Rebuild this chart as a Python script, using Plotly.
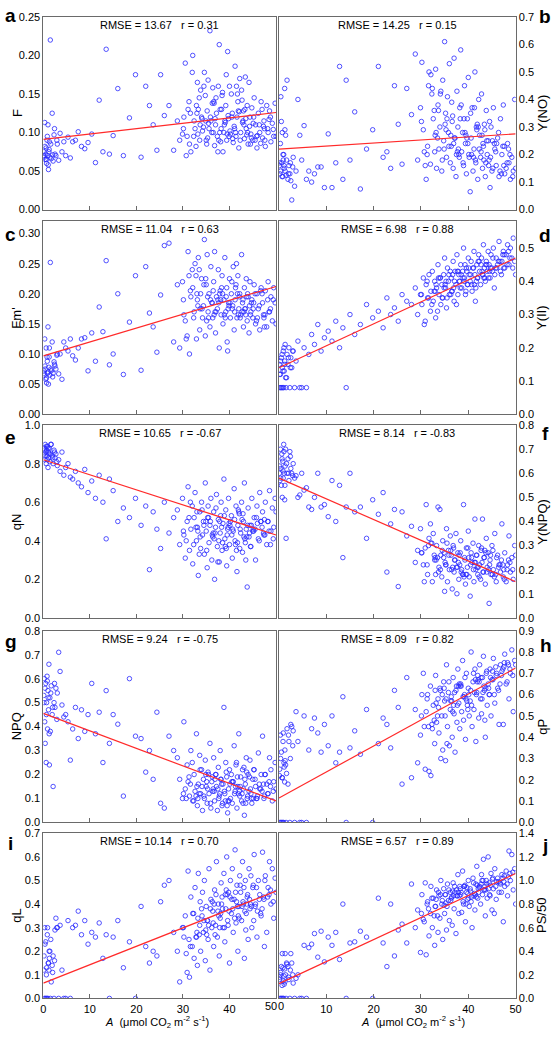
import plotly.graph_objects as go

# ---------------- data ----------------
# shared photosynthesis rate A (µmol CO2 m-2 s-1)
A = [0.1, 0.2, 0.3, 0.4, 0.5, 0.6, 0.7, 0.8, 0.9, 1.0,
     1.1, 1.2, 1.3, 1.4, 1.5, 1.7, 1.9, 2.1, 2.3, 2.5,
     2.7, 3.0, 3.3, 3.6, 4.0,
     4.4, 4.8, 5.3, 5.8, 6.3, 6.9, 7.5, 8.2, 8.9, 9.6,
     10.4, 11.2, 12.0, 12.8, 13.5, 14.2, 15.0, 16.0, 17.2, 18.5,
     19.8, 21.0, 22.0, 22.8, 23.6, 24.4, 25.2, 26.0, 27.0, 28.0,
     28.8, 29.3, 29.9, 30.2, 30.5, 30.9, 31.1, 31.4, 31.7, 32.0,
     32.1, 32.4, 32.6, 32.9, 33.1, 33.3, 33.6, 33.8, 34.0, 34.2,
     34.4, 34.6, 34.8, 35.0, 35.2, 35.4, 35.6, 35.8, 36.0, 36.2,
     36.4, 36.6, 36.8, 37.0, 37.2, 37.4, 37.6, 37.8, 38.0, 38.2,
     38.4, 38.6, 38.8, 39.0, 39.2, 39.4, 39.6, 39.8, 40.0, 40.2,
     40.4, 40.6, 40.8, 41.0, 41.2, 41.4, 41.6, 41.8, 42.0, 42.2,
     42.4, 42.6, 42.8, 43.0, 43.2, 43.4, 43.6, 43.8, 44.0, 44.2,
     44.4, 44.6, 44.8, 45.0, 45.3, 45.6, 45.9, 46.2, 46.5, 46.8,
     47.1, 47.4, 47.7, 48.0, 48.3, 48.6, 48.9, 49.2, 49.5, 49.8,
     30.7, 33.5, 35.5, 37.5, 39.5, 41.5, 43.5, 45.5, 47.5, 50.0,
     30.1, 31.3, 32.3, 33.0, 33.7, 34.5, 35.1, 35.9, 36.5, 37.1,
     37.7, 38.3, 38.9, 39.3, 39.9, 40.5, 41.1, 41.7, 42.3, 42.9,
     43.3, 43.9, 44.5, 45.2, 45.8, 46.4, 47.0, 47.6, 48.2, 48.8,
     31.6, 33.2, 34.9, 36.7, 38.1, 39.7, 41.3, 42.7, 44.3, 46.0,
     35.3, 36.9, 38.5, 40.1, 41.9, 43.7, 45.1, 46.7, 48.5, 49.4,
     32.8, 34.1, 36.3, 37.9, 39.1, 40.7, 42.1, 43.1, 44.7, 47.3,
     0.15, 0.35, 0.65, 0.85, 1.05, 1.25, 1.6, 2.0, 2.4, 2.9]

F = [0.075, 0.068, 0.113, 0.065, 0.072, 0.08, 0.06, 0.09, 0.07, 0.11,
     0.052, 0.075, 0.088, 0.068, 0.22, 0.066, 0.125, 0.063, 0.097, 0.072,
     0.07, 0.085, 0.064, 0.099, 0.075,
     0.088, 0.07, 0.094, 0.067, 0.088, 0.09, 0.101, 0.082, 0.079, 0.087,
     0.098, 0.061, 0.142, 0.075, 0.208, 0.072, 0.096, 0.157, 0.07, 0.119,
     0.175, 0.068, 0.16, 0.135, 0.11, 0.077, 0.175, 0.122, 0.135, 0.077,
     0.115, 0.09, 0.098, 0.12, 0.19, 0.095, 0.13, 0.085, 0.075, 0.178,
     0.2, 0.115, 0.105, 0.135, 0.165, 0.13, 0.09, 0.155, 0.12, 0.102,
     0.107, 0.178, 0.148, 0.09, 0.128, 0.168, 0.105, 0.232, 0.115, 0.1,
     0.158, 0.14, 0.083, 0.11, 0.125, 0.095, 0.16, 0.214, 0.13, 0.105,
     0.148, 0.075, 0.1, 0.115, 0.135, 0.09, 0.205, 0.118, 0.16, 0.098,
     0.15, 0.125, 0.087, 0.108, 0.186, 0.095, 0.12, 0.14, 0.08, 0.17,
     0.1, 0.155, 0.113, 0.128, 0.092, 0.172, 0.105, 0.135, 0.085, 0.165,
     0.12, 0.098, 0.132, 0.09, 0.145, 0.11, 0.08, 0.125, 0.1, 0.14,
     0.093, 0.115, 0.082, 0.135, 0.1, 0.128, 0.088, 0.112, 0.095, 0.138,
     0.07, 0.145, 0.112, 0.075, 0.098, 0.16, 0.118, 0.09, 0.105, 0.095,
     0.105, 0.14, 0.095, 0.125, 0.11, 0.16, 0.085, 0.12, 0.1, 0.145,
     0.09, 0.13, 0.11, 0.175, 0.095, 0.12, 0.105, 0.15, 0.09, 0.115,
     0.13, 0.1, 0.085, 0.12, 0.095, 0.11, 0.13, 0.09, 0.105, 0.12,
     0.125, 0.098, 0.115, 0.138, 0.088, 0.122, 0.1, 0.142, 0.108, 0.096,
     0.093, 0.118, 0.152, 0.102, 0.128, 0.097, 0.112, 0.086, 0.117, 0.104,
     0.082, 0.118, 0.138, 0.1, 0.113, 0.092, 0.127, 0.11, 0.093, 0.108,
     0.07, 0.082, 0.065, 0.095, 0.058, 0.078, 0.085, 0.071, 0.105, 0.09]

Y_NO = [0.16, 0.13, 0.24, 0.41, 0.32, 0.17, 0.28, 0.12, 0.18, 0.2,
        0.15, 0.44, 0.14, 0.27, 0.125, 0.47, 0.11, 0.16, 0.13, 0.105,
        0.035, 0.19, 0.085, 0.14, 0.4,
        0.27, 0.18, 0.305, 0.11, 0.14, 0.1, 0.13, 0.155, 0.155, 0.08,
        0.275, 0.08, 0.17, 0.52, 0.11, 0.47, 0.18, 0.355, 0.075, 0.22,
        0.29, 0.52, 0.19, 0.21, 0.15, 0.45, 0.31, 0.165, 0.44, 0.345,
        0.565, 0.18, 0.37, 0.535, 0.29, 0.16, 0.11, 0.23, 0.5, 0.165,
        0.49, 0.44, 0.33, 0.21, 0.51, 0.15, 0.38, 0.22, 0.3, 0.43,
        0.14, 0.47, 0.25, 0.61, 0.35, 0.19, 0.41, 0.28, 0.53, 0.17,
        0.23, 0.32, 0.15, 0.55, 0.26, 0.12, 0.43, 0.3, 0.2, 0.37,
        0.58, 0.21, 0.28, 0.16, 0.45, 0.24, 0.13, 0.33, 0.48, 0.19,
        0.065, 0.26, 0.37, 0.14, 0.22, 0.5, 0.17, 0.29, 0.11, 0.4,
        0.27, 0.19, 0.42, 0.15, 0.23, 0.31, 0.12, 0.36, 0.2, 0.25,
        0.18, 0.08, 0.3, 0.14, 0.37, 0.22, 0.16, 0.26, 0.12, 0.33,
        0.2, 0.38, 0.13, 0.15, 0.24, 0.17, 0.11, 0.19, 0.14, 0.4,
        0.21, 0.26, 0.33, 0.2, 0.27, 0.18, 0.29, 0.24, 0.16, 0.15,
        0.32, 0.2, 0.42, 0.27, 0.36, 0.18, 0.31, 0.23, 0.39, 0.26,
        0.21, 0.33, 0.17, 0.28, 0.24, 0.35, 0.19, 0.3, 0.22, 0.27,
        0.18, 0.25, 0.32, 0.15, 0.21, 0.28, 0.13, 0.23, 0.17, 0.2,
        0.45, 0.28, 0.22, 0.34, 0.19, 0.26, 0.37, 0.21, 0.16, 0.24,
        0.29, 0.24, 0.38, 0.2, 0.31, 0.17, 0.25, 0.14, 0.22, 0.12,
        0.36, 0.42, 0.27, 0.22, 0.33, 0.2, 0.3, 0.24, 0.19, 0.23,
        0.17, 0.14, 0.12, 0.2, 0.16, 0.29, 0.18, 0.13, 0.17, 0.155]

FM = [0.072, 0.065, 0.125, 0.075, 0.058, 0.11, 0.052, 0.095, 0.068, 0.145,
      0.05, 0.078, 0.11, 0.065, 0.252, 0.072, 0.12, 0.068, 0.087, 0.08,
      0.075, 0.1, 0.067, 0.1, 0.058,
      0.12, 0.11, 0.105, 0.125, 0.097, 0.09, 0.11, 0.125, 0.127, 0.072,
      0.135, 0.088, 0.178, 0.137, 0.255, 0.082, 0.1, 0.2, 0.066, 0.153,
      0.23, 0.073, 0.245, 0.168, 0.145, 0.103, 0.198, 0.28, 0.284, 0.12,
      0.215, 0.11, 0.22, 0.165, 0.155, 0.13, 0.27, 0.1, 0.195, 0.24,
      0.21, 0.17, 0.25, 0.125, 0.19, 0.26, 0.14, 0.2, 0.225, 0.16,
      0.18, 0.29, 0.13, 0.215, 0.265, 0.17, 0.2, 0.145, 0.245, 0.185,
      0.16, 0.22, 0.27, 0.135, 0.195, 0.175, 0.24, 0.11, 0.205, 0.165,
      0.23, 0.15, 0.19, 0.26, 0.17, 0.21, 0.105, 0.185, 0.225, 0.16,
      0.2, 0.175, 0.245, 0.14, 0.19, 0.215, 0.16, 0.23, 0.175, 0.2,
      0.165, 0.265, 0.185, 0.145, 0.21, 0.175, 0.225, 0.155, 0.195, 0.135,
      0.22, 0.17, 0.19, 0.16, 0.215, 0.15, 0.2, 0.175, 0.14, 0.21,
      0.185, 0.16, 0.205, 0.145, 0.22, 0.17, 0.195, 0.155, 0.21, 0.185,
      0.125, 0.24, 0.16, 0.19, 0.12, 0.25, 0.165, 0.2, 0.145, 0.15,
      0.19, 0.23, 0.16, 0.2, 0.175, 0.215, 0.155, 0.19, 0.205, 0.17,
      0.185, 0.21, 0.165, 0.195, 0.18, 0.22, 0.17, 0.2, 0.16, 0.19,
      0.175, 0.2, 0.165, 0.185, 0.155, 0.18, 0.2, 0.165, 0.19, 0.175,
      0.205, 0.18, 0.225, 0.165, 0.19, 0.175, 0.21, 0.17, 0.18, 0.16,
      0.195, 0.17, 0.2, 0.185, 0.165, 0.195, 0.175, 0.205, 0.17, 0.19,
      0.23, 0.175, 0.185, 0.2, 0.16, 0.18, 0.195, 0.17, 0.185, 0.165,
      0.068, 0.08, 0.06, 0.088, 0.07, 0.095, 0.075, 0.062, 0.083, 0.098]

Y_II = [0.15, 0.08, 0.12, 0.08, 0.17, 0.08, 0.14, 0.08, 0.19, 0.08,
        0.13, 0.16, 0.21, 0.11, 0.08, 0.18, 0.15, 0.2, 0.08, 0.17,
        0.14, 0.19, 0.08, 0.16, 0.22,
        0.08, 0.08, 0.2, 0.08, 0.18, 0.24, 0.21, 0.27, 0.19, 0.23,
        0.25, 0.22, 0.28, 0.2, 0.26, 0.08, 0.3, 0.24, 0.27, 0.33,
        0.29, 0.31, 0.26, 0.35, 0.3, 0.32, 0.28, 0.36, 0.34, 0.33,
        0.38, 0.3, 0.36, 0.33, 0.41, 0.28, 0.39, 0.35, 0.42, 0.31,
        0.37, 0.43, 0.34, 0.4, 0.29, 0.38, 0.45, 0.36, 0.41, 0.33,
        0.39, 0.35, 0.42, 0.47, 0.38, 0.32, 0.44, 0.4, 0.36, 0.43,
        0.41, 0.37, 0.46, 0.34, 0.43, 0.39, 0.48, 0.36, 0.42, 0.4,
        0.45, 0.38, 0.43, 0.5, 0.41, 0.36, 0.44, 0.39, 0.47, 0.42,
        0.4, 0.46, 0.37, 0.44, 0.49, 0.42, 0.38, 0.45, 0.41, 0.48,
        0.43, 0.39, 0.47, 0.42, 0.51, 0.44, 0.4, 0.46, 0.43, 0.49,
        0.45, 0.41, 0.48, 0.44, 0.5, 0.42, 0.47, 0.45, 0.52, 0.43,
        0.46, 0.49, 0.44, 0.48, 0.51, 0.45, 0.5, 0.47, 0.53, 0.46,
        0.27, 0.31, 0.35, 0.33, 0.37, 0.34, 0.41, 0.38, 0.44, 0.42,
        0.36, 0.4, 0.33, 0.37, 0.41, 0.35, 0.39, 0.42, 0.37, 0.4,
        0.43, 0.38, 0.41, 0.45, 0.39, 0.42, 0.44, 0.4, 0.46, 0.43,
        0.41, 0.45, 0.43, 0.47, 0.44, 0.46, 0.42, 0.48, 0.45, 0.47,
        0.35, 0.39, 0.38, 0.42, 0.4, 0.43, 0.39, 0.45, 0.41, 0.44,
        0.4, 0.38, 0.42, 0.44, 0.41, 0.45, 0.43, 0.46, 0.49, 0.44,
        0.37, 0.41, 0.36, 0.43, 0.4, 0.39, 0.46, 0.42, 0.44, 0.48,
        0.12, 0.16, 0.18, 0.13, 0.2, 0.15, 0.11, 0.17, 0.14, 0.19]

QN = [0.85, 0.88, 0.82, 0.9, 0.86, 0.8, 0.87, 0.84, 0.89, 0.78,
      0.86, 0.83, 0.88, 0.81, 0.85, 0.9, 0.84, 0.8, 0.87, 0.83,
      0.85, 0.79, 0.82, 0.76, 0.86,
      0.74, 0.78, 0.8, 0.73, 0.72, 0.76, 0.7, 0.68, 0.77, 0.65,
      0.71, 0.62, 0.74, 0.6, 0.41, 0.72, 0.66, 0.5, 0.57, 0.52,
      0.62, 0.48, 0.58, 0.25, 0.55, 0.46, 0.36, 0.6, 0.44, 0.52,
      0.56, 0.38, 0.62, 0.43, 0.31, 0.5, 0.68, 0.35, 0.46, 0.58,
      0.28, 0.52, 0.65, 0.4, 0.47, 0.22, 0.55, 0.36, 0.6, 0.43,
      0.5, 0.33, 0.7, 0.45, 0.26, 0.58, 0.39, 0.48, 0.62, 0.3,
      0.42, 0.55, 0.2, 0.47, 0.64, 0.37, 0.51, 0.29, 0.44, 0.6,
      0.35, 0.49, 0.72, 0.41, 0.56, 0.27, 0.46, 0.62, 0.38, 0.5,
      0.53, 0.31, 0.45, 0.67, 0.4, 0.58, 0.24, 0.48, 0.55, 0.36,
      0.44, 0.6, 0.34, 0.5, 0.7, 0.39, 0.46, 0.16, 0.57, 0.42,
      0.48, 0.37, 0.62, 0.45, 0.52, 0.3, 0.58, 0.41, 0.65, 0.5,
      0.55, 0.43, 0.6, 0.38, 0.5, 0.66, 0.45, 0.57, 0.47, 0.62,
      0.4, 0.33, 0.52, 0.29, 0.43, 0.35, 0.3, 0.46, 0.51, 0.55,
      0.45, 0.52, 0.38, 0.55, 0.42, 0.48, 0.35, 0.5, 0.44, 0.57,
      0.4, 0.47, 0.53, 0.36, 0.49, 0.43, 0.51, 0.39, 0.46, 0.54,
      0.41, 0.48, 0.37, 0.45, 0.52, 0.4, 0.47, 0.43, 0.5, 0.38,
      0.6, 0.45, 0.5, 0.41, 0.53, 0.47, 0.38, 0.51, 0.44, 0.49,
      0.52, 0.44, 0.39, 0.48, 0.56, 0.42, 0.46, 0.5, 0.45, 0.41,
      0.47, 0.56, 0.43, 0.5, 0.37, 0.46, 0.54, 0.42, 0.48, 0.44,
      0.87, 0.84, 0.89, 0.82, 0.88, 0.85, 0.9, 0.83, 0.86, 0.81]

Y_NPQ = [0.6, 0.57, 0.7, 0.62, 0.55, 0.68, 0.5, 0.65, 0.58, 0.72,
         0.6, 0.49, 0.63, 0.7, 0.33, 0.6, 0.66, 0.57, 0.69, 0.62,
         0.6, 0.64, 0.58, 0.59, 0.5,
         0.51, 0.6, 0.53, 0.54, 0.46, 0.45, 0.5, 0.6, 0.46, 0.47,
         0.42, 0.57, 0.4, 0.55, 0.25, 0.46, 0.6, 0.44, 0.46, 0.33,
         0.49, 0.43, 0.52, 0.19, 0.39, 0.45, 0.13, 0.44, 0.34, 0.38,
         0.23, 0.28, 0.37, 0.27, 0.22, 0.29, 0.47, 0.18, 0.33, 0.39,
         0.31, 0.15, 0.35, 0.24, 0.18, 0.3, 0.46, 0.21, 0.45, 0.26,
         0.17, 0.32, 0.25, 0.11, 0.22, 0.37, 0.15, 0.28, 0.2, 0.34,
         0.26, 0.12, 0.3, 0.19, 0.24, 0.35, 0.1, 0.27, 0.16, 0.22,
         0.32, 0.2, 0.18, 0.47, 0.25, 0.14, 0.29, 0.21, 0.36, 0.17,
         0.09, 0.27, 0.23, 0.31, 0.15, 0.41, 0.2, 0.26, 0.18, 0.3,
         0.22, 0.16, 0.29, 0.41, 0.19, 0.25, 0.14, 0.33, 0.21, 0.27,
         0.06, 0.24, 0.18, 0.3, 0.2, 0.35, 0.15, 0.26, 0.22, 0.19,
         0.39, 0.17, 0.27, 0.15, 0.22, 0.34, 0.19, 0.25, 0.16, 0.3,
         0.15, 0.25, 0.31, 0.21, 0.18, 0.23, 0.28, 0.17, 0.2, 0.26,
         0.27, 0.22, 0.31, 0.25, 0.19, 0.28, 0.23, 0.26, 0.2, 0.24,
         0.21, 0.27, 0.18, 0.24, 0.29, 0.22, 0.2, 0.26, 0.17, 0.23,
         0.25, 0.19, 0.22, 0.28, 0.18, 0.21, 0.24, 0.16, 0.2, 0.23,
         0.3, 0.24, 0.27, 0.21, 0.26, 0.18, 0.23, 0.28, 0.2, 0.25,
         0.22, 0.29, 0.19, 0.25, 0.21, 0.27, 0.18, 0.22, 0.24, 0.2,
         0.26, 0.2, 0.28, 0.23, 0.17, 0.25, 0.21, 0.19, 0.26, 0.22,
         0.63, 0.58, 0.66, 0.61, 0.69, 0.55, 0.64, 0.6, 0.67, 0.59]

NPQ = [0.53, 0.6, 0.42, 0.33, 0.58, 0.25, 0.5, 0.61, 0.39, 0.55,
       0.47, 0.66, 0.24, 0.52, 0.38, 0.57, 0.45, 0.15, 0.5, 0.48,
       0.56, 0.54, 0.71, 0.63, 0.49,
       0.44, 0.45, 0.42, 0.26, 0.39, 0.48, 0.35, 0.47, 0.38, 0.45,
       0.58, 0.37, 0.46, 0.25, 0.55, 0.33, 0.45, 0.41, 0.11, 0.6,
       0.36, 0.35, 0.21, 0.3, 0.18, 0.46, 0.08, 0.06, 0.36, 0.3,
       0.27, 0.18, 0.1, 0.42, 0.14, 0.24, 0.17, 0.11, 0.3, 0.25,
       0.09, 0.2, 0.13, 0.37, 0.07, 0.16, 0.28, 0.12, 0.22, 0.05,
       0.18, 0.1, 0.26, 0.15, 0.08, 0.21, 0.12, 0.33, 0.06, 0.17,
       0.13, 0.27, 0.09, 0.2, 0.15, 0.05, 0.23, 0.11, 0.3, 0.18,
       0.07, 0.16, 0.48, 0.12, 0.25, 0.19, 0.04, 0.14, 0.22, 0.1,
       0.2, 0.08, 0.17, 0.32, 0.13, 0.24, 0.06, 0.15, 0.37, 0.11,
       0.19, 0.09, 0.22, 0.14, 0.03, 0.16, 0.27, 0.1, 0.2, 0.13,
       0.26, 0.12, 0.08, 0.18, 0.22, 0.15, 0.1, 0.29, 0.14, 0.2,
       0.36, 0.1, 0.2, 0.16, 0.12, 0.27, 0.22, 0.09, 0.17, 0.25,
       0.1, 0.12, 0.2, 0.14, 0.07, 0.25, 0.08, 0.18, 0.11, 0.14,
       0.12, 0.19, 0.09, 0.15, 0.22, 0.11, 0.17, 0.08, 0.14, 0.2,
       0.1, 0.16, 0.13, 0.21, 0.09, 0.17, 0.12, 0.19, 0.15, 0.08,
       0.18, 0.11, 0.14, 0.22, 0.1, 0.16, 0.13, 0.2, 0.12, 0.15,
       0.16, 0.1, 0.2, 0.13, 0.18, 0.09, 0.15, 0.12, 0.19, 0.11,
       0.14, 0.18, 0.08, 0.16, 0.12, 0.21, 0.1, 0.14, 0.17, 0.13,
       0.11, 0.15, 0.19, 0.12, 0.09, 0.17, 0.13, 0.23, 0.1, 0.16,
       0.5, 0.56, 0.45, 0.59, 0.52, 0.37, 0.54, 0.48, 0.58, 0.43]

QP = [0.22, 0, 0.41, 0, 0.33, 0, 0.21, 0, 0.42, 0,
      0.26, 0.19, 0.29, 0.27, 0, 0.44, 0.18, 0.38, 0, 0.46,
      0.45, 0.43, 0, 0.52, 0.38,
      0, 0, 0.5, 0, 0.34, 0.44, 0.49, 0.42, 0.33, 0.46,
      0.36, 0.5, 0.28, 0.33, 0.59, 0, 0.35, 0.43, 0.32, 0.53,
      0, 0.37, 0.49, 0.46, 0.35, 0.62, 0.54, 0.18, 0.68, 0.21,
      0.53, 0.28, 0.41, 0.6, 0.7, 0.25, 0.52, 0.6, 0.24, 0.64,
      0.22, 0.44, 0.55, 0.37, 0.69, 0.47, 0.58, 0.42, 0.63, 0.3,
      0.5, 0.34, 0.66, 0.57, 0.29, 0.74, 0.45, 0.61, 0.36, 0.53,
      0.59, 0.4, 0.68, 0.51, 0.33, 0.62, 0.47, 0.72, 0.56, 0.44,
      0.65, 0.52, 0.76, 0.48, 0.6, 0.39, 0.7, 0.55, 0.63, 0.5,
      0.57, 0.8, 0.45, 0.66, 0.53, 0.72, 0.38, 0.61, 0.69, 0.49,
      0.74, 0.58, 0.51, 0.68, 0.78, 0.62, 0.4, 0.7, 0.55, 0.65,
      0.6, 0.72, 0.5, 0.67, 0.77, 0.56, 0.69, 0.63, 0.46, 0.74,
      0.71, 0.46, 0.79, 0.65, 0.75, 0.58, 0.7, 0.81, 0.52, 0.76,
      0.45, 0.5, 0.37, 0.64, 0.58, 0.67, 0.48, 0.6, 0.73, 0.74,
      0.5, 0.58, 0.46, 0.62, 0.54, 0.6, 0.5, 0.66, 0.57, 0.61,
      0.55, 0.64, 0.59, 0.68, 0.53, 0.62, 0.7, 0.6, 0.66, 0.58,
      0.64, 0.71, 0.6, 0.67, 0.73, 0.62, 0.69, 0.75, 0.66, 0.72,
      0.45, 0.56, 0.63, 0.52, 0.65, 0.57, 0.61, 0.68, 0.63, 0.7,
      0.58, 0.55, 0.64, 0.6, 0.66, 0.63, 0.71, 0.65, 0.74, 0.69,
      0.48, 0.62, 0.57, 0.64, 0.59, 0.55, 0.67, 0.61, 0.68, 0.72,
      0.25, 0.3, 0.21, 0.38, 0.28, 0.34, 0.23, 0.41, 0.3, 0.36]

QL = [0.12, 0, 0.3, 0, 0.24, 0, 0.13, 0, 0.3, 0,
      0.15, 0.12, 0.17, 0.2, 0, 0.07, 0.14, 0.18, 0, 0.29,
      0.34, 0.3, 0, 0.31, 0.12,
      0, 0, 0.33, 0, 0.3, 0.31, 0.37, 0.27, 0.33, 0.23,
      0.28, 0.26, 0.32, 0.17, 0.27, 0, 0.26, 0.33, 0.13, 0.24,
      0, 0.39, 0.22, 0.15, 0.2, 0.18, 0.41, 0.48, 0.5, 0.28,
      0.2, 0.07, 0.3, 0.26, 0.35, 0.11, 0.54, 0.09, 0.43, 0.22,
      0.36, 0.17, 0.47, 0.26, 0.14, 0.53, 0.31, 0.2, 0.38, 0.45,
      0.28, 0.5, 0.16, 0.39, 0.33, 0.25, 0.55, 0.12, 0.42, 0.3,
      0.37, 0.22, 0.46, 0.31, 0.58, 0.26, 0.4, 0.18, 0.34, 0.49,
      0.43, 0.3, 0.53, 0.24, 0.38, 0.6, 0.33, 0.45, 0.15, 0.5,
      0.36, 0.55, 0.28, 0.42, 0.63, 0.32, 0.48, 0.2, 0.39, 0.52,
      0.45, 0.33, 0.58, 0.4, 0.17, 0.5, 0.36, 0.43, 0.25, 0.55,
      0.38, 0.52, 0.3, 0.47, 0.61, 0.4, 0.26, 0.5, 0.44, 0.35,
      0.62, 0.42, 0.52, 0.28, 0.47, 0.58, 0.4, 0.55, 0.34, 0.51,
      0.19, 0.27, 0.31, 0.37, 0.44, 0.41, 0.29, 0.39, 0.22, 0.45,
      0.3, 0.25, 0.36, 0.28, 0.41, 0.33, 0.27, 0.38, 0.32, 0.44,
      0.35, 0.4, 0.3, 0.46, 0.37, 0.42, 0.34, 0.39, 0.48, 0.41,
      0.37, 0.44, 0.4, 0.33, 0.47, 0.42, 0.38, 0.5, 0.43, 0.46,
      0.22, 0.34, 0.29, 0.4, 0.36, 0.31, 0.45, 0.39, 0.42, 0.37,
      0.33, 0.27, 0.38, 0.43, 0.35, 0.4, 0.48, 0.36, 0.44, 0.41,
      0.26, 0.35, 0.41, 0.3, 0.44, 0.38, 0.34, 0.47, 0.39, 0.43,
      0.18, 0.23, 0.1, 0.27, 0.15, 0.2, 0.25, 0.11, 0.16, 0.3]

PS50 = [0.18, 0, 0.2, 0, 0.27, 0, 0.38, 0, 0.15, 0,
        0.12, 0.25, 0.38, 0.2, 0, 0.29, 0.27, 0.16, 0, 0.38,
        0.3, 0.13, 0, 0.17, 0.2,
        0, 0, 0.45, 0, 0.43, 0.46, 0.55, 0.35, 0.57, 0.31,
        0.52, 0.45, 0.56, 0.33, 0.8, 0, 0.47, 0.48, 0.57, 0.52,
        0, 0.85, 0.47, 0.27, 0.8, 0.36, 0.58, 0.63, 0.47, 0.97,
        0.6, 0.75, 0.39, 0.88, 0.67, 0.98, 0.37, 0.82, 0.53, 0.72,
        0.95, 0.6, 0.85, 0.45, 0.78, 0.92, 0.56, 0.87, 0.68, 1.0,
        0.8, 0.5, 0.93, 0.72, 0.88, 0.58, 0.97, 0.83, 0.66, 0.9,
        0.85, 0.62, 0.98, 0.76, 0.9, 0.55, 0.87, 1.05, 0.72, 0.95,
        0.88, 0.73, 1.08, 0.8, 0.95, 0.65, 0.9, 0.84, 1.0, 0.78,
        0.93, 0.82, 0.6, 1.02, 0.87, 0.75, 0.97, 1.12, 0.85, 0.9,
        0.95, 0.8, 1.05, 0.88, 1.18, 0.92, 0.7, 1.0, 0.85, 1.2,
        0.98, 0.87, 1.06, 0.75, 0.93, 1.1, 0.84, 1.02, 0.9, 0.97,
        1.05, 0.65, 0.95, 1.08, 0.87, 1.25, 1.0, 1.22, 0.92, 1.1,
        0.65, 0.7, 0.78, 0.92, 0.8, 0.88, 0.95, 0.72, 0.99, 0.8,
        0.72, 0.8, 0.85, 0.78, 0.9, 0.83, 0.88, 0.92, 0.86, 0.95,
        0.87, 0.93, 0.82, 0.96, 0.89, 0.91, 0.98, 0.86, 0.94, 1.0,
        0.92, 0.97, 0.88, 1.02, 0.95, 0.99, 0.9, 1.04, 0.97, 1.06,
        0.76, 0.84, 0.79, 0.91, 0.87, 0.94, 0.89, 0.97, 0.93, 0.99,
        0.81, 0.87, 0.9, 0.85, 0.96, 0.92, 1.01, 0.98, 1.03, 1.07,
        0.7, 0.88, 0.83, 0.9, 0.95, 0.86, 0.93, 1.0, 0.96, 1.02,
        0.16, 0.22, 0.11, 0.26, 0.19, 0.14, 0.3, 0.18, 0.24, 0.2]

panel_letters = ["a", "b", "c", "d", "e", "f", "g", "h", "i", "j"]
y_titles = ["F", "Y(NO)", "Fm'", "Y(II)", "qN", "Y(NPQ)", "NPQ", "qP", "qL", "PS/50"]
y_series = [F, Y_NO, FM, Y_II, QN, Y_NPQ, NPQ, QP, QL, PS50]
rmse = ["13.67", "14.25", "11.04", "6.98", "10.65", "8.14", "9.24", "8.09", "10.14", "6.57"]
r_vals = ["0.31", "0.15", "0.63", "0.88", "-0.67", "-0.83", "-0.75", "0.82", "0.70", "0.89"]
# fitted line values at A = 0 and A = 50
fit_at_0 = [0.091, 0.220, 0.097, 0.140, 0.820, 0.580, 0.455, 0.115, 0.065, 0.125]
fit_at_50 = [0.126, 0.275, 0.212, 0.470, 0.430, 0.150, 0.090, 0.725, 0.455, 1.060]
fit_x = [0, 50]
y_max = [0.25, 0.7, 0.32, 0.58, 1.0, 0.8, 0.8, 0.9, 0.7, 1.4]
y_dtick = [0.05, 0.1, 0.05, 0.1, 0.2, 0.1, 0.1, 0.1, 0.1, 0.2]
y_fmt = [".2f", ".1f", ".2f", ".1f", ".1f", ".1f", ".1f", ".1f", ".1f", ".1f"]
x_ticks = [0, 10, 20, 30, 40, 50]
# the meeting labels ("50" of the left panel, "0" of the right) are nudged apart
x_ticktext_left = ["0", "10", "20", "30", "40", ""]
x_ticktext_right = ["", "10", "20", "30", "40", "50"]
edge_labels = [("50", 272.5), ("0", 283.0)]

# ---------------- layout geometry (pixels) ----------------
W, H = 559, 1039
col_px = [(41, 277.5), (280.5, 521)]
row_px = [(11, 206), (218, 413), (424, 619), (632, 826), (837, 1004)]
letter_pos = [(8, 10), (551, 11), (8, 231), (551, 232), (8, 437), (551, 432),
              (8, 643), (552, 647), (8, 847), (551, 849)]

FONT = "Liberation Sans, Arial, sans-serif"
FRAME = "#6a6a6a"


def px_x(p):
    return p / W


def px_y(p):
    return 1 - p / H


fig = go.Figure()
annotations = []
for i in range(10):
    row, col = divmod(i, 2)
    n = i + 1
    xa = "x" if n == 1 else f"x{n}"
    ya = "y" if n == 1 else f"y{n}"
    fig.add_trace(go.Scatter(
        x=A, y=y_series[i], mode="markers", xaxis=xa, yaxis=ya,
        marker=dict(symbol="circle-open", size=4.5, color="rgba(40,40,255,0.8)",
                    line=dict(width=1)),
        showlegend=False, hoverinfo="skip"))
    fig.add_trace(go.Scatter(
        x=fit_x, y=[fit_at_0[i], fit_at_50[i]], mode="lines", xaxis=xa, yaxis=ya,
        line=dict(color="#ff2a2a", width=1.2), showlegend=False, hoverinfo="skip"))

    x0, x1 = col_px[col]
    y0, y1 = row_px[row]
    bottom = row == 4
    fig.layout["xaxis" if n == 1 else f"xaxis{n}"] = dict(
        domain=[px_x(x0), px_x(x1)], anchor=ya, range=[0, 50],
        tickvals=x_ticks,
        ticktext=x_ticktext_left if col == 0 else x_ticktext_right,
        ticks="inside", ticklen=4, tickcolor=FRAME,
        showticklabels=bottom, showline=True, mirror=True, linecolor=FRAME,
        linewidth=1, showgrid=False, zeroline=False,
        tickfont=dict(family=FONT, size=11, color="black"))
    fig.layout["yaxis" if n == 1 else f"yaxis{n}"] = dict(
        domain=[px_y(y1), px_y(y0)], anchor=xa, range=[0, y_max[i]],
        dtick=y_dtick[i], tick0=0, tickformat=y_fmt[i], ticks="",
        side="left" if col == 0 else "right",
        showline=True, mirror=True, linecolor=FRAME, linewidth=1,
        showgrid=False, zeroline=False,
        tickfont=dict(family=FONT, size=11, color="black"))

    # RMSE / r label
    annotations.append(dict(
        x=px_x((x0 + x1) / 2), y=px_y(y0 + 8), xref="paper", yref="paper",
        text=f"RMSE = {rmse[i]}\u00a0\u00a0\u00a0r = {r_vals[i]}", showarrow=False,
        xanchor="center", yanchor="middle",
        font=dict(family=FONT, size=11, color="black")))
    # y-axis title
    annotations.append(dict(
        x=px_x(14 if col == 0 else 548), y=px_y((y0 + y1) / 2),
        xref="paper", yref="paper", text=y_titles[i], textangle=-90,
        showarrow=False, xanchor="center", yanchor="middle",
        font=dict(family=FONT, size=13, color="black")))
    # panel letter
    lx, ly = letter_pos[i]
    annotations.append(dict(
        x=px_x(lx), y=px_y(ly), xref="paper", yref="paper",
        text=f"<b>{panel_letters[i]}</b>", showarrow=False,
        xanchor="center", yanchor="middle",
        font=dict(family=FONT, size=19, color="black")))

# x tick labels where the two bottom panels meet
for txt, cx in edge_labels:
    annotations.append(dict(
        x=px_x(cx), y=px_y(1012), xref="paper", yref="paper", text=txt,
        showarrow=False, xanchor="center", yanchor="middle", borderpad=0,
        font=dict(family=FONT, size=11, color="black")))

# x-axis titles
for cx in (157, 417):
    annotations.append(dict(
        x=px_x(cx), y=px_y(1028), xref="paper", yref="paper",
        text="<i>A</i>\u00a0\u00a0(μmol CO<sub>2</sub> m<sup>-2</sup> s<sup>-1</sup>)",
        showarrow=False, xanchor="center", yanchor="middle",
        font=dict(family=FONT, size=11, color="black")))

fig.update_layout(
    width=W, height=H, margin=dict(l=0, r=0, t=0, b=0),
    paper_bgcolor="white", plot_bgcolor="white",
    annotations=annotations, font=dict(family=FONT))

fig.write_html("out.html", config={"displayModeBar": False},
               post_script="document.body.style.margin='0';document.body.style.overflow='hidden';")
